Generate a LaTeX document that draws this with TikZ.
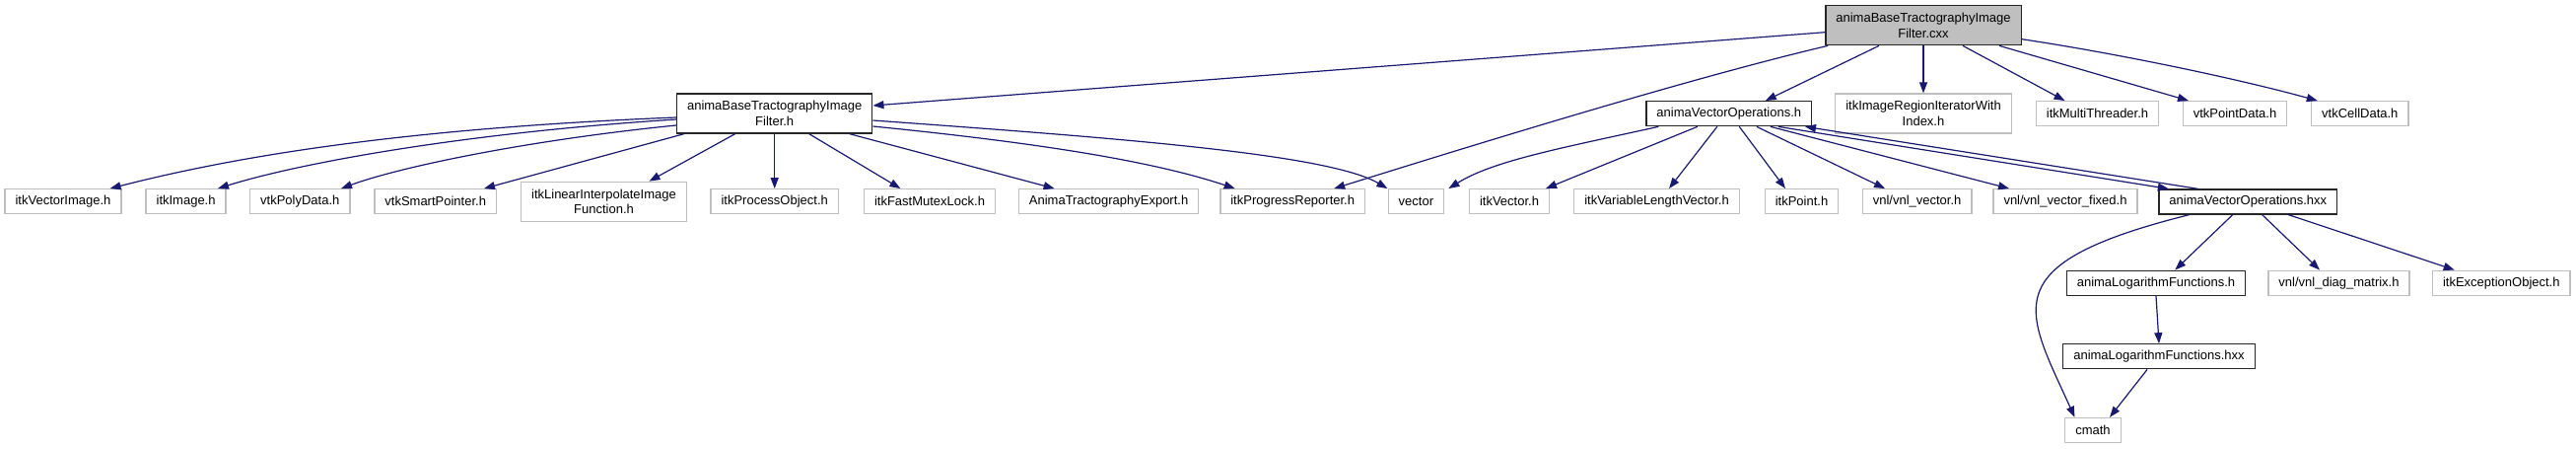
\documentclass[tikz,border=0pt]{standalone}
\usepackage{fontspec}
\setmainfont{Liberation Sans}
\usetikzlibrary{arrows.meta}
\definecolor{edgeblue}{RGB}{25, 25, 112}
\definecolor{boxgrey}{RGB}{191, 191, 191}

\begin{document}
\begin{tikzpicture}[
      x=1pt, y=-1pt,
      font=\fontsize{13}{15.5}\selectfont,
      >={Triangle[length=11pt, width=8pt]},
      file/.style={rectangle, inner xsep=10.5pt, inner ysep=0pt, minimum height=25pt, align=center, line width=1.3pt},
      tall/.style={minimum height=40pt},
      rootfile/.style={file, tall, draw=black!85, fill=boxgrey},
      docfile/.style={file, draw=black!85, fill=white},
      extfile/.style={file, draw=boxgrey, fill=white},
      dep/.style={->, line width=1.2pt, draw=edgeblue}
  ]
  \useasboundingbox (0,0) rectangle (2613,455);

  % Source file
  \node[rootfile] (cxx) at (1951,25.7) {animaBaseTractographyImage\\Filter.cxx};

  % Second row
  \node[docfile, tall] (fh) at (785.7,115) {animaBaseTractographyImage\\Filter.h};
  \node[docfile] (vo) at (1753.8,115.2) {animaVectorOperations.h};
  \node[extfile, tall] (iri) at (1951,115) {itkImageRegionIteratorWith\\Index.h};
  \node[extfile] (imt) at (2127.5,115.2) {itkMultiThreader.h};
  \node[extfile] (vpd) at (2267,115.2) {vtkPointData.h};
  \node[extfile] (vcd) at (2393.8,115.2) {vtkCellData.h};

  % Third row
  \node[extfile] (ivi) at (64,204.2) {itkVectorImage.h};
  \node[extfile] (iim) at (188.6,204.2) {itkImage.h};
  \node[extfile] (vpy) at (304.3,204.2) {vtkPolyData.h};
  \node[extfile] (vsp) at (441.7,204.2) {vtkSmartPointer.h};
  \node[extfile, tall] (ili) at (612.5,204.3) {itkLinearInterpolateImage\\Function.h};
  \node[extfile] (ipo) at (785.7,204.2) {itkProcessObject.h};
  \node[extfile] (ifm) at (943,204.2) {itkFastMutexLock.h};
  \node[extfile] (ate) at (1124.6,204.2) {AnimaTractographyExport.h};
  \node[extfile] (ipr) at (1311.2,204.2) {itkProgressReporter.h};
  \node[extfile] (vec) at (1436.4,204.2) {vector};
  \node[extfile] (iv) at (1531,204.2) {itkVector.h};
  \node[extfile] (ivl) at (1680.5,204.2) {itkVariableLengthVector.h};
  \node[extfile] (ipt) at (1827.5,204.2) {itkPoint.h};
  \node[extfile] (vnv) at (1944.6,204.2) {vnl/vnl\_vector.h};
  \node[extfile] (vnf) at (2095,204.2) {vnl/vnl\_vector\_fixed.h};
  \node[docfile] (voh) at (2280.3,204.5) {animaVectorOperations.hxx};

  % Lower rows
  \node[docfile] (alh) at (2187,286.7) {animaLogarithmFunctions.h};
  \node[extfile] (vdm) at (2372.5,286.7) {vnl/vnl\_diag\_matrix.h};
  \node[extfile] (ieo) at (2537.3,286.7) {itkExceptionObject.h};
  \node[docfile] (alx) at (2190,361.3) {animaLogarithmFunctions.hxx};
  \node[extfile] (cm) at (2123,436) {cmath};

  % Includes of the .cxx
  \draw[dep] ([yshift=-7pt]cxx.west) -- ([yshift=8pt]fh.east);
  \draw[dep] ([xshift=3pt]cxx.south west) .. controls +(-150,35) and +(100,-31) .. ([xshift=42pt]ipr.north);
  \draw[dep] ([xshift=-45pt]cxx.south) -- ([xshift=37pt]vo.north);
  \draw[dep] (cxx.south) -- (iri.north);
  \draw[dep] ([xshift=40pt]cxx.south) -- ([xshift=-33pt]imt.north);
  \draw[dep] ([xshift=77pt]cxx.south) -- ([xshift=-47pt]vpd.north);
  \draw[dep] ([yshift=-14pt]cxx.east) .. controls +(100,15) and +(-80,-22) .. ([xshift=-43pt]vcd.north);

  % Includes of the filter header
  \draw[dep] ([yshift=-4pt]fh.west) .. controls +(-300,12) and +(110,-28) .. ([xshift=47.6pt]ivi.north);
  \draw[dep] ([yshift=-6pt]fh.west) .. controls +(-220,14) and +(80,-25) .. ([xshift=32.4pt]iim.north);
  \draw[dep] ([yshift=-12pt]fh.west) .. controls +(-150,15) and +(60,-22) .. ([xshift=41.7pt]vpy.north);
  \draw[dep] ([xshift=8pt]fh.south west) -- ([xshift=49.3pt]vsp.north);
  \draw[dep] ([xshift=-40pt]fh.south) -- ([xshift=46pt]ili.north);
  \draw[dep] (fh.south) -- (ipo.north);
  \draw[dep] ([xshift=35pt]fh.south) -- ([xshift=-29.6pt]ifm.north);
  \draw[dep] ([xshift=76pt]fh.south) -- ([xshift=-55pt]ate.north);
  \draw[dep] ([yshift=-13pt]fh.east) .. controls +(150,15) and +(-90,-30) .. ([xshift=-58.5pt]ipr.north);
  \draw[dep] ([yshift=-7pt]fh.east) .. controls +(250,18) and +(-60,-35) .. ([xshift=-29pt]vec.north);

  % Includes of the vector operations
  \draw[dep] ([xshift=13pt]vo.south west) .. controls +(-100,22) and +(45,-28) .. ([xshift=33pt]vec.north);
  \draw[dep] ([xshift=-32pt]vo.south) -- ([xshift=37pt]iv.north);
  \draw[dep] ([xshift=-12pt]vo.south) -- ([xshift=12.5pt]ivl.north);
  \draw[dep] ([xshift=10.5pt]vo.south) -- ([xshift=-16.5pt]ipt.north);
  \draw[dep] ([xshift=28pt]vo.south) -- ([xshift=-32.6pt]vnv.north);
  \draw[dep] ([xshift=42pt]vo.south) -- ([xshift=-57pt]vnf.north);
  \draw[dep] ([xshift=50pt]vo.south) -- ([xshift=10.5pt]voh.north west);
  \draw[dep] ([xshift=40.3pt]voh.north west) -- ([xshift=-7.3pt]vo.south east);

  % Includes of the .hxx files
  \draw[dep] ([xshift=31.3pt]voh.south west) .. controls +(-200,50) and +(-50,-110) .. ([xshift=-18.5pt]cm.north);
  \draw[dep] ([xshift=-15.6pt]voh.south) -- ([xshift=19.3pt]alh.north);
  \draw[dep] ([xshift=14.4pt]voh.south) -- ([xshift=-19.5pt]vdm.north);
  \draw[dep] ([xshift=41pt]voh.south) -- ([xshift=-47.6pt]ieo.north);
  \draw[dep] (alh.south) -- (alx.north);
  \draw[dep] ([xshift=-12pt]alx.south) -- ([xshift=17pt]cm.north);

\end{tikzpicture}
\end{document}
